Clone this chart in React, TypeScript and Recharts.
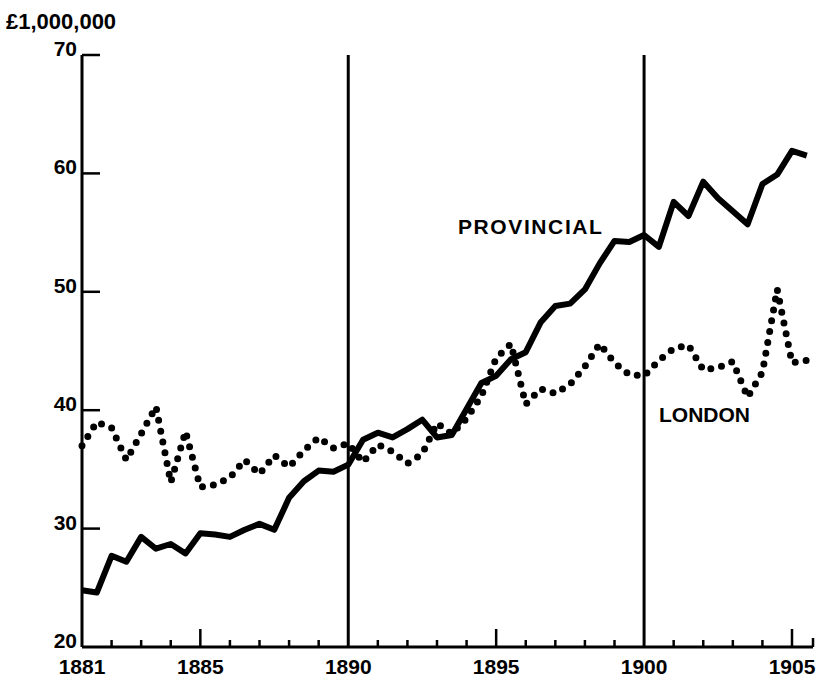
import React from 'react';
import { LineChart, Line, XAxis, YAxis, ReferenceLine } from 'recharts';

// half-yearly readings, £ million
const periods = [
  1881, 1881.5, 1882, 1882.5, 1883, 1883.5, 1884, 1884.5, 1885, 1885.5,
  1886, 1886.5, 1887, 1887.5, 1888, 1888.5, 1889, 1889.5, 1890, 1890.5,
  1891, 1891.5, 1892, 1892.5, 1893, 1893.5, 1894, 1894.5, 1895, 1895.5,
  1896, 1896.5, 1897, 1897.5, 1898, 1898.5, 1899, 1899.5, 1900, 1900.5,
  1901, 1901.5, 1902, 1902.5, 1903, 1903.5, 1904, 1904.5, 1905, 1905.5,
];

const provincial = [
  24.8, 24.6, 27.7, 27.2, 29.3, 28.3, 28.7, 27.9, 29.6, 29.5,
  29.3, 29.9, 30.4, 29.9, 32.6, 34.0, 34.9, 34.8, 35.4, 37.5,
  38.1, 37.7, 38.4, 39.2, 37.7, 37.9, 40.1, 42.3, 42.9, 44.3,
  44.9, 47.4, 48.8, 49.0, 50.2, 52.4, 54.3, 54.2, 54.8, 53.8,
  57.6, 56.4, 59.3, 57.9, 56.8, 55.7, 59.1, 59.9, 61.9, 61.5,
];

const london = [
  37.0, 39.0, 38.5, 35.8, 38.0, 40.3, 33.9, 38.2, 33.5, 33.7,
  34.3, 35.8, 34.6, 36.2, 35.2, 36.6, 37.7, 36.8, 37.2, 35.6,
  37.1, 36.5, 35.5, 36.3, 38.9, 38.0, 39.3, 41.2, 44.4, 45.6,
  40.5, 41.8, 41.4, 42.2, 43.7, 45.6, 44.0, 43.0, 42.9, 44.2,
  45.2, 45.5, 43.4, 43.6, 44.1, 41.1, 43.2, 50.2, 44.0, 44.2,
];

const yearTicks = [
  1881, 1882, 1883, 1884, 1885, 1886, 1887, 1888, 1889, 1890, 1891, 1892, 1893,
  1894, 1895, 1896, 1897, 1898, 1899, 1900, 1901, 1902, 1903, 1904, 1905,
];
const labelledYears = [1881, 1885, 1890, 1895, 1900, 1905];
const dividerYears = [1890, 1900];
const valueTicks = [20, 30, 40, 50, 60, 70];
const X_END = 1905.71;

const data = periods.map((p, i) => ({ period: p, provincial: provincial[i], london: london[i] }));

const INK = '#000';
const FONT = '"Liberation Sans", Arial, sans-serif';

const YearTick = (props: any) => {
  const { x, y, payload } = props;
  const year = payload.value;
  const isEnd = year === X_END;
  const len = isEnd ? 9 : year % 5 === 0 ? 18 : 7;
  const showLine = year !== 1881 && !dividerYears.includes(year);
  return (
    <g>
      {showLine && <line x1={x} x2={x} y1={y} y2={y - len} stroke={INK} strokeWidth={2.5} />}
      {labelledYears.includes(year) && (
        <text x={x} y={y + 27} textAnchor="middle" fontFamily={FONT} fontWeight="bold" fontSize={21} fill={INK}>
          {year}
        </text>
      )}
    </g>
  );
};

const ValueTick = (props: any) => {
  const { x, y, payload } = props;
  return (
    <g>
      {payload.value > 20 && <line x1={x} x2={x + 18} y1={y} y2={y} stroke={INK} strokeWidth={2.5} />}
      <text x={x - 5} y={y + 1} textAnchor="end" fontFamily={FONT} fontWeight="bold" fontSize={21} fill={INK}>
        {payload.value}
      </text>
    </g>
  );
};

export default function App() {
  return (
    <div style={{ position: 'absolute', left: 0, top: 0, background: '#fff' }}>
      <LineChart width={821} height={678} data={data} margin={{ top: 55, right: 8, bottom: 0, left: 0 }}>
        <XAxis
          dataKey="period"
          type="number"
          domain={[1881, X_END]}
          ticks={[...yearTicks, X_END]}
          interval={0}
          height={31}
          tickSize={0}
          tickMargin={0}
          tickLine={false}
          axisLine={{ stroke: INK, strokeWidth: 3 }}
          tick={<YearTick />}
        />
        <YAxis
          type="number"
          domain={[20, 70]}
          ticks={valueTicks}
          interval={0}
          width={82}
          tickSize={0}
          tickMargin={0}
          tickLine={false}
          axisLine={{ stroke: INK, strokeWidth: 3 }}
          tick={<ValueTick />}
        />
        {dividerYears.map((yr) => (
          <ReferenceLine key={yr} x={yr} stroke={INK} strokeWidth={3} />
        ))}
        <Line
          dataKey="london"
          stroke={INK}
          strokeWidth={7}
          strokeDasharray="0 11"
          strokeLinecap="round"
          dot={false}
          activeDot={false}
          isAnimationActive={false}
        />
        <Line
          dataKey="provincial"
          stroke={INK}
          strokeWidth={6}
          strokeLinejoin="round"
          dot={false}
          activeDot={false}
          isAnimationActive={false}
        />
        <text x={6} y={29} fontFamily={FONT} fontWeight="bold" fontSize={22} fill={INK}>
          £1,000,000
        </text>
        <text x={458} y={234} fontFamily={FONT} fontWeight="bold" fontSize={21} letterSpacing={1.6} fill={INK}>
          PROVINCIAL
        </text>
        <text x={659} y={422} fontFamily={FONT} fontWeight="bold" fontSize={21} fill={INK}>
          LONDON
        </text>
      </LineChart>
    </div>
  );
}
